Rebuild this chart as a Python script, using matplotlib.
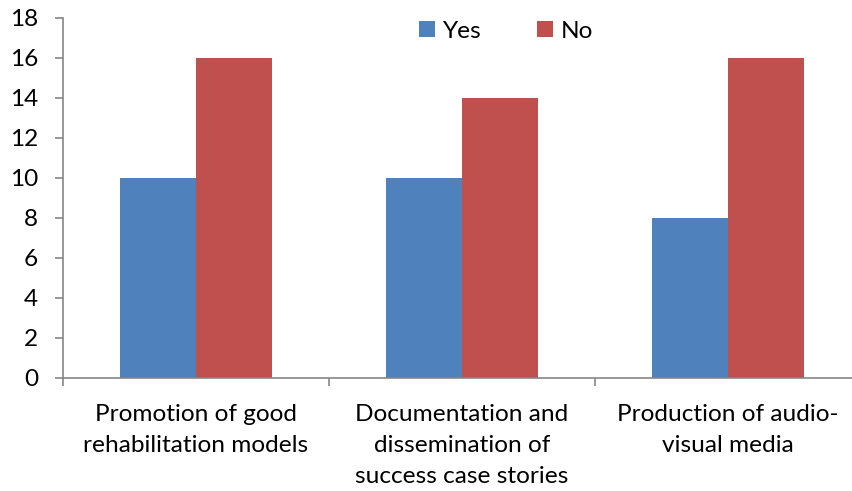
import matplotlib
matplotlib.use("Agg")
import matplotlib.pyplot as plt
import numpy as np

categories = ["Promotion of good\nrehabilitation models",
              "Documentation and\ndissemination of\nsuccess case stories",
              "Production of audio-\nvisual media"]
yes_values = [10, 10, 8]
no_values = [16, 14, 16]
series_names = ["Yes", "No"]
y_ticks = [0, 2, 4, 6, 8, 10, 12, 14, 16, 18]

plt.rcParams["font.family"] = ["Lato", "DejaVu Sans"]
FS = 17.6

W, H = 852, 491
fig = plt.figure(figsize=(W / 100, H / 100), dpi=100)
# plot area extends slightly past the right edge of the canvas
left, right, bottom, top = 63, 861, 378, 18
ax = fig.add_axes([left / W, 1 - bottom / H, (right - left) / W, (bottom - top) / H])

x = np.arange(len(categories))
bw = 0.285
ax.bar(x - bw / 2, yes_values, bw, color="#4F81BD", label=series_names[0])
ax.bar(x + bw / 2, no_values, bw, color="#C0504D", label=series_names[1])

ax.set_xlim(-0.5, len(categories) - 0.5)
ax.set_ylim(0, 18)
ax.set_yticks(y_ticks)
ax.set_yticklabels([str(v) for v in y_ticks], fontsize=FS)

# category boundary ticks on the x axis, labels centred between them
ax.set_xticks(np.arange(len(categories) + 1) - 0.5)
ax.set_xticklabels([])
ax.set_xticks(x, minor=True)
ax.set_xticklabels(categories, minor=True, fontsize=FS, linespacing=1.58)
ax.tick_params(axis="x", which="minor", length=0, pad=19)
ax.tick_params(axis="x", which="major", length=6, width=1.2, color="#868686", direction="out")
ax.tick_params(axis="y", length=6, width=1.2, color="#868686", direction="out", pad=12)

for s in ["top", "right"]:
    ax.spines[s].set_visible(False)
for s in ["left", "bottom"]:
    ax.spines[s].set_color("#868686")
    ax.spines[s].set_linewidth(1.2)

fig.legend(loc="center", bbox_to_anchor=(506 / W, 1 - 31 / H), ncol=2, frameon=False,
           fontsize=FS, handlelength=0.65, handleheight=0.65, handletextpad=0.3,
           columnspacing=2.3)

fig.savefig("out.png", dpi=100)
